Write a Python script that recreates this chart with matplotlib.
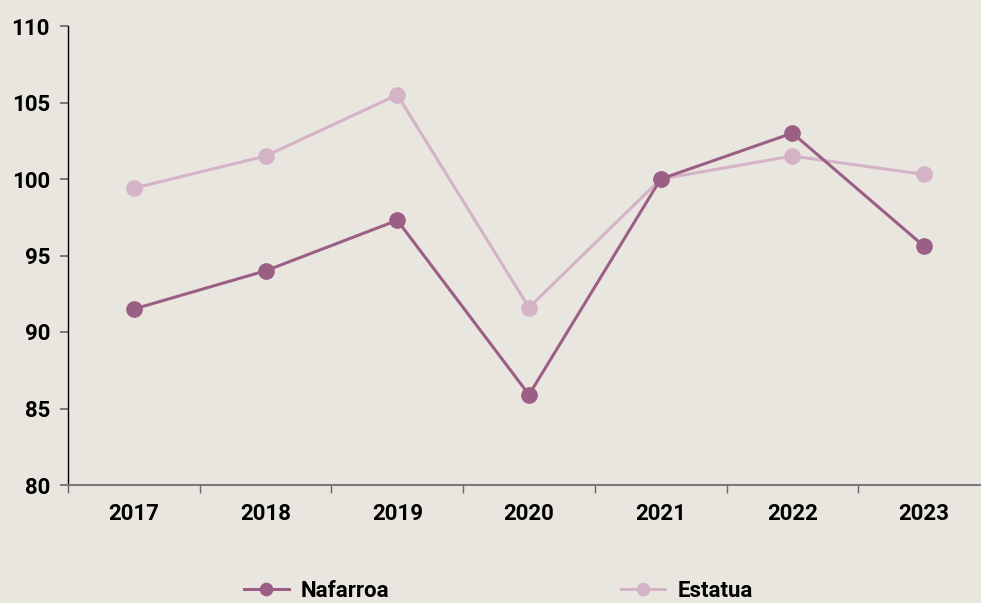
import matplotlib
matplotlib.use("Agg")
import matplotlib.pyplot as plt
from matplotlib.ticker import FixedLocator

years = ["2017", "2018", "2019", "2020", "2021", "2022", "2023"]
nafarroa = [91.5, 94.0, 97.3, 85.9, 100.0, 103.0, 95.6]
estatua = [99.4, 101.5, 105.5, 91.6, 100.0, 101.5, 100.3]
yticks = [80, 85, 90, 95, 100, 105, 110]

plt.rcParams['font.family'] = ['Roboto', 'DejaVu Sans']
plt.rcParams['font.weight'] = 'bold'

bg = "#e9e6e0"
c_naf = "#9b5f85"
c_est = "#d4b3c7"

fig = plt.figure(figsize=(9.81, 6.03), dpi=100, facecolor=bg)
ax = fig.add_axes([68/981, 118/603, (990-68)/981, (485-26)/603], facecolor=bg)

x = list(range(len(years)))
ax.plot(x, estatua, color=c_est, lw=2.2, marker='o', ms=11, label="Estatua", zorder=2)
ax.plot(x, nafarroa, color=c_naf, lw=2.2, marker='o', ms=11, label="Nafarroa", zorder=3)

ax.set_xlim(-0.5, 6.5)
ax.set_ylim(80, 110)
ax.set_yticks(yticks)
ax.set_yticklabels([str(v) for v in yticks])
ax.set_xticks(x)
ax.set_xticklabels(years)
ax.xaxis.set_minor_locator(FixedLocator([i + 0.5 for i in range(-1, 6)]))

for s in ['top', 'right']:
    ax.spines[s].set_visible(False)
ax.spines['left'].set_color('black')
ax.spines['left'].set_linewidth(1.0)
ax.spines['bottom'].set_color('#7a7a7a')
ax.spines['bottom'].set_linewidth(1.5)

ax.tick_params(axis='y', which='major', length=6, width=1.2, color='#666666', pad=7,
               labelsize=16, labelcolor='black')
ax.tick_params(axis='x', which='major', length=0, pad=13, labelsize=16, labelcolor='black')
ax.tick_params(axis='x', which='minor', length=6, width=1.0, color='#666666')

handles, labels = ax.get_legend_handles_labels()
order = [1, 0]
leg = fig.legend([handles[i] for i in order], [labels[i] for i in order],
                 loc='center', bbox_to_anchor=(0.508, 12/603), ncol=2, frameon=False,
                 fontsize=16, handlelength=2.0, handletextpad=0.55, columnspacing=10.4,
                 markerscale=0.8, borderaxespad=0)

fig.savefig("out.png", dpi=100, facecolor=bg)
